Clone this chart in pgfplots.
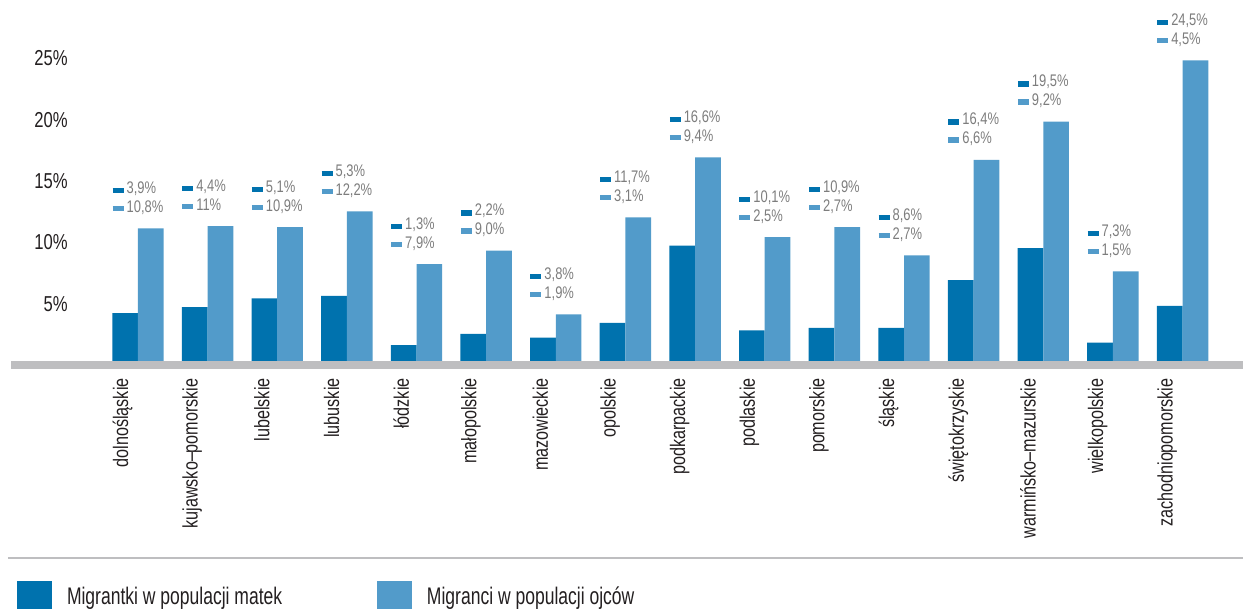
\documentclass[border=0pt]{standalone}
\usepackage{fontspec}
\setmainfont{Liberation Sans}
\newfontfamily\cond[FakeStretch=0.77]{Liberation Sans}
\newfontfamily\condleg[FakeStretch=0.73]{Liberation Sans}
\usepackage{pgfplots}
\pgfplotsset{compat=1.18}
\usepackage{pgfplotstable}

\definecolor{cdark}{HTML}{0072AE}
\definecolor{clight}{HTML}{529BCA}
\definecolor{cband}{HTML}{BEBEC0}
\definecolor{clabel}{HTML}{7D7D7D}
\definecolor{ctick}{HTML}{231F20}

% x = region index, matki / ojcowie = bar heights, la / lb = printed labels
\pgfplotstableread{
x matki ojcowie la lb
0  3.9 10.8 3,9  10,8
1  4.4 11.0 4,4  11
2  5.1 10.9 5,1  10,9
3  5.3 12.2 5,3  12,2
4  1.3  7.9 1,3  7,9
5  2.2  9.0 2,2  9,0
6  1.9  3.8 3,8  1,9
7  3.1 11.7 11,7 3,1
8  9.4 16.6 16,6 9,4
9  2.5 10.1 10,1 2,5
10 2.7 10.9 10,9 2,7
11 2.7  8.6 8,6  2,7
12 6.6 16.4 16,4 6,6
13 9.2 19.5 19,5 9,2
14 1.5  7.3 7,3  1,5
15 4.5 24.5 24,5 4,5
}\regions

\begin{document}
\begin{tikzpicture}
\begin{axis}[
    scale only axis,
    width=616pt, height=184.5pt,
    xmin=-1.823, xmax=15.868,
    ymin=-0.652, ymax=29.42,
    clip=false,
    axis line style={draw=none},
    major tick length=0pt,
    ytick={5,10,15,20,25},
    yticklabels={5\%,10\%,15\%,20\%,25\%},
    yticklabel style={anchor=east, inner sep=0pt, xshift=28.5pt, yshift=-2pt,
        font=\cond\fontsize{10.8}{12}\selectfont, text=ctick},
    xtick={-0.22,0.78,1.78,2.78,3.78,4.78,5.78,6.78,7.78,8.78,9.78,10.78,11.78,12.78,13.78,14.78},
    xticklabels={dolnośląskie,kujawsko–pomorskie,lubelskie,lubuskie,łódzkie,
        małopolskie,mazowieckie,opolskie,podkarpackie,podlaskie,pomorskie,
        śląskie,świętokrzyskie,warmińsko–mazurskie,wielkopolskie,zachodniopomorskie},
    xticklabel style={rotate=90, anchor=east, inner sep=0pt,
        font=\cond\fontsize{10.5}{12}\selectfont, text=ctick},
    xticklabel shift=4.5pt,
    legend columns=2,
    legend style={at={(axis description cs:0,0)}, anchor=north west,
        xshift=3pt, yshift=-106pt, draw=none, inner sep=0pt, outer sep=0pt,
        cells={anchor=base west, inner sep=0pt}, column sep=0pt,
        font=\condleg\fontsize{12}{14}\selectfont, text=ctick},
    legend image code/.code={\fill[#1] (0pt,-5.5pt) rectangle (17.5pt,12pt);},
    /tikz/every odd column/.append style={column sep=5.5pt},
]
\coordinate (ll) at (rel axis cs:0,0);
\coordinate (ur) at (rel axis cs:1,1);
\fill[cband] (axis cs:-1.823,-0.652) rectangle (axis cs:15.868,0);

\addplot[ybar, bar width=12.85pt, bar shift=-6.425pt, fill=cdark, draw=none]
    table[x=x, y=matki]{\regions};
\addlegendentry{\makebox[153pt][l]{Migrantki w populacji matek}}
\addplot[ybar, bar width=12.85pt, bar shift=6.425pt, fill=clight, draw=none]
    table[x=x, y=ojcowie]{\regions};
\addlegendentry{Migranci w populacji ojców}

% labels above each pair
\addplot[draw=none, mark=none, forget plot, point meta=explicit symbolic,
    nodes near coords={\textcolor{cdark}{\rule{5.5pt}{2.65pt}}\hspace{1.5pt}\pgfplotspointmeta\%},
    every node near coord/.append style={anchor=base west, inner sep=0pt,
        xshift=-12.85pt, yshift=17.5pt, text=clabel,
        font=\cond\fontsize{8.4}{10}\selectfont}]
    table[x=x, y=ojcowie, meta=la]{\regions};
\addplot[draw=none, mark=none, forget plot, point meta=explicit symbolic,
    nodes near coords={\textcolor{clight}{\rule[0.5pt]{5.5pt}{2.65pt}}\hspace{1.5pt}\pgfplotspointmeta\%},
    every node near coord/.append style={anchor=base west, inner sep=0pt,
        xshift=-12.85pt, yshift=8pt, text=clabel,
        font=\cond\fontsize{8.4}{10}\selectfont}]
    table[x=x, y=ojcowie, meta=lb]{\regions};
\end{axis}
\draw[cband, line width=1.25pt] ([xshift=-1.5pt, yshift=-94.5pt]ll) -- ([yshift=-94.5pt]ll -| ur);
\pgfresetboundingbox
\path ([xshift=-5.5pt, yshift=-120pt]ll) rectangle (ur);
\end{tikzpicture}
\end{document}
